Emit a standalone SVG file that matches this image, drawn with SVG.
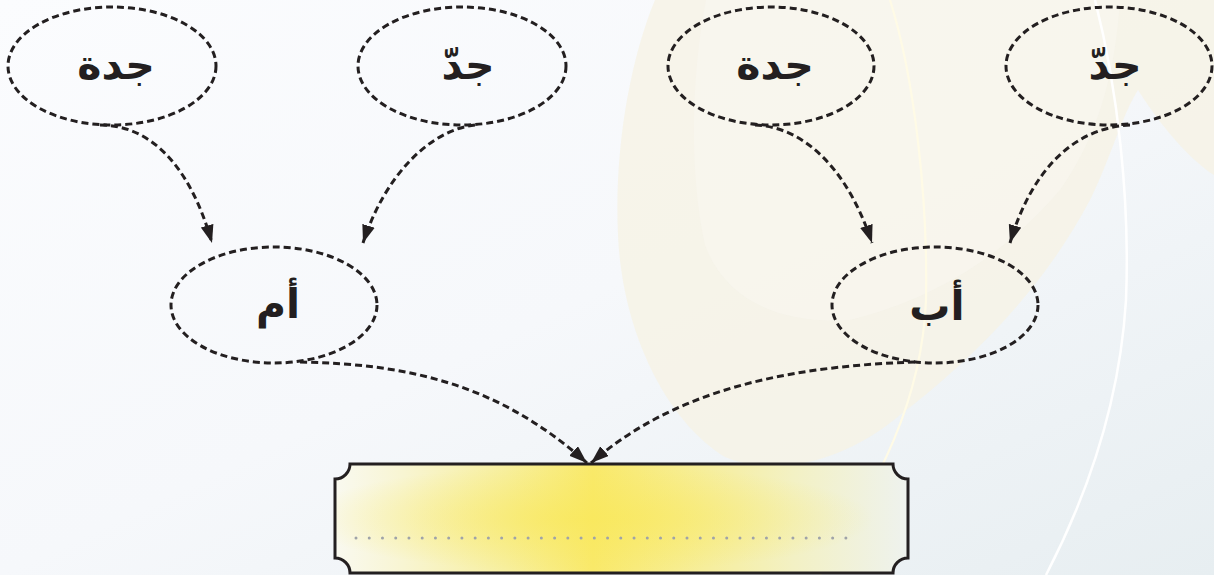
<svg xmlns="http://www.w3.org/2000/svg" width="1214" height="575" viewBox="0 0 1214 575">
<defs>
<linearGradient id="bg" x1="0" y1="0" x2="1" y2="1">
<stop offset="0" stop-color="#fbfcfe"/>
<stop offset="0.5" stop-color="#f6f8fb"/>
<stop offset="1" stop-color="#e7eef1"/>
</linearGradient>
<linearGradient id="boxfill" x1="0" y1="0" x2="1" y2="0">
<stop offset="0" stop-color="#f9f9f0"/>
<stop offset="0.12" stop-color="#f8f5d2"/>
<stop offset="0.3" stop-color="#f7ef9e"/>
<stop offset="0.45" stop-color="#f9e96a"/>
<stop offset="0.6" stop-color="#f7ed90"/>
<stop offset="0.8" stop-color="#f3f1c4"/>
<stop offset="1" stop-color="#eef2ee"/>
</linearGradient>
<radialGradient id="glow" cx="0.44" cy="0.5" r="0.5">
<stop offset="0" stop-color="#f9e85a" stop-opacity="0.7"/>
<stop offset="1" stop-color="#f9e85a" stop-opacity="0"/>
</radialGradient>
<marker id="arrow" markerUnits="userSpaceOnUse" markerWidth="20" markerHeight="14" refX="18" refY="6.5" orient="auto">
<path d="M0,0 L18,6.5 L0,13 Z" fill="#231f20"/>
</marker>
<style>
.node ellipse{fill:none;stroke:#231f20;stroke-width:3;stroke-dasharray:7 4}
.lbl{font-family:"DejaVu Sans","Noto Sans",sans-serif;font-weight:bold;font-size:41px;fill:#231f20;text-anchor:middle}
.conn path{fill:none;stroke:#231f20;stroke-width:3;stroke-dasharray:7 4;marker-end:url(#arrow)}
</style>
</defs>
<g id="background">
<rect width="1214" height="575" fill="url(#bg)"/>
<path d="M655,0 C630,60 614,150 618,235 C622,330 665,420 725,457 C775,478 845,462 900,415 C965,365 1040,295 1090,200 C1110,160 1122,115 1138,90 C1160,125 1190,160 1214,175 V0 Z" fill="#f6f2e5" opacity="0.8"/>
<path d="M706,0 C690,80 690,180 705,245 C725,300 780,325 850,320 C930,300 1000,260 1060,190 C1095,140 1115,80 1120,0 Z" fill="#f9f8f1" opacity="0.5"/>
<path d="M890,0 C915,80 928,200 926,300 C922,400 880,480 820,575" fill="none" stroke="#fffbe6" stroke-width="2.2"/>
<path d="M1095,0 C1118,90 1130,200 1126,300 C1120,400 1090,490 1046,575" fill="none" stroke="#ffffff" stroke-width="2.5"/>
</g>
<g id="connectors" class="conn">
<path d="M100,125 C150,125 190,165 212,243"/>
<path d="M475,125 C430,130 385,175 363,243"/>
<path d="M755,125 C805,127 848,170 872,243"/>
<path d="M1130,125 C1070,128 1030,175 1010,243"/>
<path d="M300,362 C410,364 500,385 587,463"/>
<path d="M915,362 C800,366 680,385 591,463"/>
</g>
<g id="node-grandmother-1" class="node">
<ellipse cx="112" cy="66" rx="104" ry="59"/>
<text class="lbl" x="116" y="79">جدة</text>
</g>
<g id="node-grandfather-1" class="node">
<ellipse cx="462" cy="66" rx="104" ry="59"/>
<text class="lbl" x="468" y="79">جدّ</text>
</g>
<g id="node-grandmother-2" class="node">
<ellipse cx="771" cy="66" rx="103" ry="59"/>
<text class="lbl" x="775" y="79">جدة</text>
</g>
<g id="node-grandfather-2" class="node">
<ellipse cx="1109" cy="66" rx="103" ry="59"/>
<text class="lbl" x="1115" y="79">جدّ</text>
</g>
<g id="node-mother" class="node">
<ellipse cx="274" cy="305" rx="103" ry="58"/>
<text class="lbl" x="278" y="318">أم</text>
</g>
<g id="node-father" class="node">
<ellipse cx="935" cy="305" rx="103" ry="58"/>
<text class="lbl" x="937" y="320">أب</text>
</g>
<g id="node-result">
<path d="M350,464 H893 A15,15 0 0 0 908,479 V558 A15,15 0 0 0 893,573 H350 A15,15 0 0 0 335,558 V479 A15,15 0 0 0 350,464 Z" fill="url(#boxfill)"/>
<path d="M350,464 H893 A15,15 0 0 0 908,479 V558 A15,15 0 0 0 893,573 H350 A15,15 0 0 0 335,558 V479 A15,15 0 0 0 350,464 Z" fill="url(#glow)" stroke="#231f20" stroke-width="3"/>
<line x1="356" y1="538" x2="846" y2="538" stroke="#9fa3a8" stroke-width="3" stroke-linecap="round" stroke-dasharray="0 13.24"/>
</g>
</svg>
